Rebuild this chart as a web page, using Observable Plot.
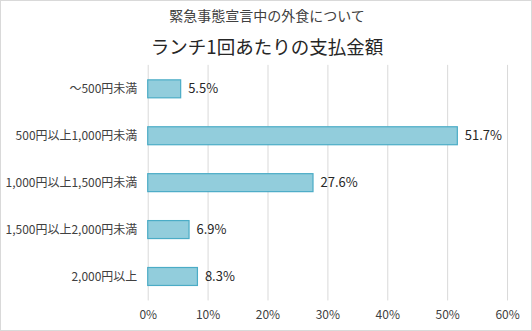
<!DOCTYPE html>
<html><head><meta charset="utf-8">
<script src="https://cdn.jsdelivr.net/npm/d3@7"></script>
<script src="https://cdn.jsdelivr.net/npm/@observablehq/plot@0.6"></script>
<style>
html,body{margin:0;padding:0;background:#fff;}
#wrap{position:relative;width:532px;height:331px;box-sizing:border-box;border:1px solid #d9d9d9;font-family:"Noto Sans CJK JP","Noto Sans",sans-serif;overflow:hidden;}
.t1{position:absolute;left:0;width:532px;top:4px;text-align:center;font-size:14px;color:#404040;line-height:20px;}
.t2{position:absolute;left:0;width:532px;top:32px;text-align:center;font-size:18.5px;color:#262626;line-height:26px;}
#chart{position:absolute;left:-1px;top:-1px;}
</style></head>
<body>
<div id="wrap">
<div class="t1">緊急事態宣言中の外食について</div>
<div class="t2">ランチ1回あたりの支払金額</div>
<div id="chart"></div>
</div>
<script>
const categories = ["～500円未満","500円以上1,000円未満","1,000円以上1,500円未満","1,500円以上2,000円未満","2,000円以上"];
const values = [5.5, 51.7, 27.6, 6.9, 8.3];
const xTicks = [0,10,20,30,40,50,60];
const data = categories.map((c,i)=>({cat:c, v:values[i]}));
const font = '"Noto Sans CJK JP","Noto Sans",sans-serif';
const chart = Plot.plot({
  width:532, height:331,
  marginLeft:148, marginRight:24, marginTop:65, marginBottom:30,
  style:{fontFamily:font, fontSize:"12px", color:"#404040", background:"transparent"},
  x:{domain:[0,60], ticks:xTicks, tickFormat:d=>d+"%", label:null, tickSize:0, tickPadding:10},
  y:{domain:categories, label:null, tickSize:0, tickPadding:11, paddingInner:0.62, paddingOuter:0.31},
  marks:[
    Plot.gridX(xTicks,{stroke:"#d9d9d9", strokeOpacity:1, strokeWidth:1}),
    Plot.barX(data,{x:"v", y:"cat", fill:"#92cddc", stroke:"#4bacc6", strokeWidth:1.2, inset:0}),
    Plot.text(data,{x:"v", y:"cat", text:d=>d.v.toFixed(1)+"%", textAnchor:"start", dx:7, fill:"#262626", fontSize:13})
  ]
});
document.getElementById("chart").appendChild(chart);
</script>
</body></html>
